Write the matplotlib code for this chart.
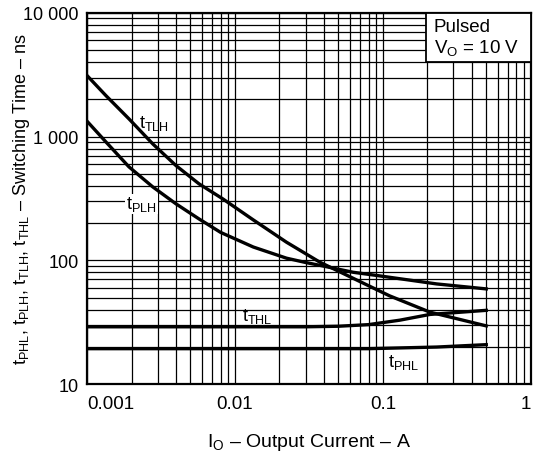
import numpy as np
import matplotlib
matplotlib.use("Agg")
import matplotlib.pyplot as plt
from matplotlib.ticker import LogLocator, NullFormatter
from matplotlib.patches import Rectangle

plt.rcParams['font.family'] = ['Liberation Sans', 'DejaVu Sans']
plt.rcParams['mathtext.fontset'] = 'custom'
plt.rcParams['mathtext.rm'] = 'Liberation Sans'
plt.rcParams['mathtext.it'] = 'Liberation Sans'

# --- dane ---
x_tlh = [0.001, 0.00134, 0.00192, 0.00278, 0.00399, 0.00571, 0.00826, 0.0133, 0.0223,
         0.0375, 0.0512, 0.063, 0.083, 0.111, 0.208, 0.5]
t_tlh = [3110, 2145, 1390, 873, 583, 415, 314, 212, 140,
         96.5, 80.6, 71.5, 61, 51.6, 38.1, 29.5]

x_plh = [0.001, 0.00134, 0.00192, 0.00278, 0.00399, 0.00571, 0.008, 0.0133, 0.0223,
         0.03, 0.0375, 0.063, 0.09, 0.231, 0.5]
t_plh = [1330, 906, 569, 392, 286, 216, 168, 128, 104,
         96, 91, 80, 75.5, 64.4, 58.7]

x_thl = [0.001, 0.01, 0.03, 0.05, 0.08, 0.13, 0.208, 0.5]
t_thl = [29, 29, 29, 29.3, 30.2, 32.8, 36.5, 39.4]

x_phl = [0.001, 0.01, 0.08, 0.231, 0.5]
t_phl = [19.3, 19.3, 19.3, 19.9, 20.8]

xticks = [0.001, 0.01, 0.1, 1]
xticklabels = ["0.001", "0.01", "0.1", "1"]
yticks = [10, 100, 1000, 10000]
yticklabels = ["10", "100", "1 000", "10 000"]

fig = plt.figure(figsize=(5.34, 4.60), dpi=100)
ax = fig.add_axes([0.163, 0.163, 0.831, 0.807])
ax.set_axisbelow(True)

lw = 2.4
ax.plot(x_tlh, t_tlh, color="black", lw=lw, zorder=3)
ax.plot(x_plh, t_plh, color="black", lw=lw, zorder=3)
ax.plot(x_thl, t_thl, color="black", lw=lw, zorder=3)
ax.plot(x_phl, t_phl, color="black", lw=lw, zorder=3)

ax.set_xscale("log")
ax.set_yscale("log")
ax.set_xlim(0.001, 1)
ax.set_ylim(10, 10000)

ax.xaxis.set_minor_locator(LogLocator(base=10, subs=np.arange(2, 10)))
ax.yaxis.set_minor_locator(LogLocator(base=10, subs=np.arange(2, 10)))
ax.xaxis.set_minor_formatter(NullFormatter())
ax.yaxis.set_minor_formatter(NullFormatter())
ax.set_xticks(xticks, xticklabels)
ax.set_yticks(yticks, yticklabels)
ax.grid(True, which="both", color="black", lw=0.9)
ax.tick_params(which="both", length=0)
ax.tick_params(axis="x", pad=8, labelsize=13.5)
ax.tick_params(axis="y", pad=6, labelsize=13)
tl = ax.get_xticklabels()
tl[0].set_horizontalalignment("left")
tl[-1].set_horizontalalignment("right")

for s in ax.spines.values():
    s.set_linewidth(1.6)

# --- etykiety krzywych ---
fs = 13
ax.text(0.00224, 1300, r"t$_{\mathregular{TLH}}$", fontsize=fs, va="center", ha="left", zorder=4)
ax.text(0.00184, 285, r"t$_{\mathregular{PLH}}$", fontsize=fs, va="center", ha="left", zorder=4,
        bbox=dict(facecolor="white", edgecolor="none", pad=0.5))
ax.text(0.0111, 35.8, r"t$_{\mathregular{THL}}$", fontsize=fs, va="center", ha="left", zorder=4)
ax.text(0.108, 15.3, r"t$_{\mathregular{PHL}}$", fontsize=fs, va="center", ha="left", zorder=4)

# --- ramka z warunkami ---
ax.add_patch(Rectangle((0.7635, 0.868), 0.2365, 0.132, transform=ax.transAxes,
                       facecolor="white", edgecolor="black", lw=1.3, zorder=5))
ax.text(0.781, 0.962, "Pulsed", transform=ax.transAxes, fontsize=13.5,
        ha="left", va="center", zorder=6)
ax.text(0.781, 0.908, "V$_{\\mathregular{O}}$ = 10 V", transform=ax.transAxes, fontsize=13.5,
        ha="left", va="center", zorder=6)

ax.set_xlabel(r"I$_{\mathregular{O}}$ – Output Current – A", fontsize=14, va="top")
ax.xaxis.set_label_coords(0.5, -0.127)
ax.set_ylabel(r"t$_{\mathregular{PHL}}$, t$_{\mathregular{PLH}}$, t$_{\mathregular{TLH}}$, "
              r"t$_{\mathregular{THL}}$ – Switching Time – ns", fontsize=13)
ax.yaxis.set_label_coords(-0.124, 0.5)

fig.savefig("out.png", dpi=100)
